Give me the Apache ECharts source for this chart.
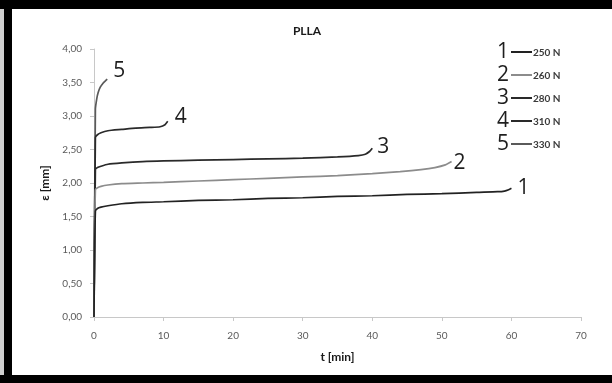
<!DOCTYPE html>
<html>
<head>
<meta charset="utf-8">
<script src="https://cdn.jsdelivr.net/npm/echarts@6/dist/echarts.min.js"></script>
<style>
  html, body { margin: 0; padding: 0; background: #ffffff; }
  #chart { width: 612px; height: 383px; }
</style>
</head>
<body>
<div id="chart"></div>
<script>
// Creep curves of PLLA specimens: strain ε [mm] against time t [min]
const curveNames = ['1', '2', '3', '4', '5'];
const loads = ['250 N', '260 N', '280 N', '310 N', '330 N'];
const curveColors = ['#222222', '#8c8c8c', '#2a2a2a', '#2a2a2a', '#5a5a5a'];

const t1 = [0, 0.2, 0.5, 1, 2, 4, 7, 10, 15, 20, 25, 30, 35, 40, 45, 50, 55, 58, 59, 59.6, 60];
const e1 = [0, 1.58, 1.62, 1.64, 1.66, 1.69, 1.71, 1.72, 1.74, 1.75, 1.77, 1.78, 1.80, 1.81, 1.83, 1.84, 1.86, 1.87, 1.88, 1.90, 1.92];

const t2 = [0, 0.2, 0.5, 1, 2, 4, 7, 10, 15, 20, 25, 30, 35, 40, 44, 47, 49, 50.5, 51.4];
const e2 = [0, 1.90, 1.93, 1.95, 1.97, 1.99, 2.00, 2.01, 2.03, 2.05, 2.07, 2.09, 2.11, 2.14, 2.17, 2.20, 2.23, 2.27, 2.32];

const t3 = [0, 0.2, 0.5, 1, 2, 4, 7, 10, 15, 20, 25, 30, 35, 38, 39, 39.6, 40];
const e3 = [0, 2.20, 2.23, 2.25, 2.28, 2.30, 2.32, 2.33, 2.34, 2.35, 2.36, 2.37, 2.39, 2.41, 2.43, 2.47, 2.52];

const t4 = [0, 0.2, 0.5, 1, 2, 4, 6, 8, 9.5, 10.2, 10.6];
const e4 = [0, 2.68, 2.72, 2.75, 2.78, 2.80, 2.82, 2.83, 2.84, 2.87, 2.92];

const t5 = [0, 0.2, 0.4, 0.6, 0.9, 1.3, 1.6, 1.9];
const e5 = [0, 3.10, 3.26, 3.35, 3.43, 3.49, 3.52, 3.55];

const xTicks = { min: 0, max: 70, interval: 10 };
const yTicks = { min: 0, max: 4, interval: 0.5 };

const times = [t1, t2, t3, t4, t5];
const strains = [e1, e2, e3, e4, e5];
const endLabelOffsets = [[4, 0], [0, 1], [3, -1], [5, -4], [4, -8]];

const chart = echarts.init(document.getElementById('chart'), null, { renderer: 'canvas' });

const series = curveNames.map((name, i) => ({
  name: name,
  type: 'line',
  data: times[i].map((t, k) => [t, strains[i][k]]),
  showSymbol: false,
  smooth: 0.2,
  lineStyle: { color: curveColors[i], width: 1.7 },
  itemStyle: { color: curveColors[i] },
  endLabel: {
    show: true,
    formatter: name,
    fontFamily: 'Open Sans',
    fontSize: 21,
    color: '#1e1e1e',
    distance: 2,
    offset: endLabelOffsets[i]
  },
  z: 5 - i
}));

// Key on the right: big curve number, short dash, load value
const keyX = 502, keyY0 = 51, keyStep = 23;
const keyGraphics = [];
curveNames.forEach((name, i) => {
  const y = keyY0 + i * keyStep;
  keyGraphics.push({
    type: 'text',
    style: {
      x: keyX + 7, y: y + 1, text: name, align: 'right', verticalAlign: 'middle',
      font: '21px "Open Sans"', fill: '#1e1e1e'
    }
  });
  keyGraphics.push({
    type: 'line',
    shape: { x1: keyX + 9, y1: y + 1, x2: keyX + 30, y2: y + 1 },
    style: { stroke: curveColors[i], lineWidth: 2 }
  });
  keyGraphics.push({
    type: 'text',
    style: {
      x: keyX + 31, y: y + 2, text: loads[i], align: 'left', verticalAlign: 'middle',
      font: 'bold 10px Lato', fill: '#3a3a3a'
    }
  });
});

const frame = [
  { type: 'rect', shape: { x: 0, y: 0, width: 4, height: 383 }, style: { fill: '#cfcfcf' }, z: 100 },
  { type: 'rect', shape: { x: 4, y: 0, width: 8, height: 383 }, style: { fill: '#000000' }, z: 100 },
  { type: 'rect', shape: { x: 0, y: 0, width: 612, height: 9 }, style: { fill: '#000000' }, z: 100 },
  { type: 'rect', shape: { x: 0, y: 375, width: 612, height: 8 }, style: { fill: '#000000' }, z: 100 }
];

chart.setOption({
  animation: false,
  backgroundColor: '#ffffff',
  title: {
    text: 'PLLA',
    left: 302,
    top: 20,
    textAlign: 'center',
    textStyle: { fontFamily: 'Lato', fontWeight: 'bold', fontSize: 12, color: '#1a1a1a' }
  },
  grid: { left: 94, right: 31, top: 49, bottom: 66, containLabel: false },
  xAxis: {
    type: 'value',
    min: xTicks.min, max: xTicks.max, interval: xTicks.interval,
    name: 't [min]',
    nameLocation: 'middle',
    nameGap: 34,
    nameTextStyle: { fontFamily: 'Lato', fontWeight: 'bold', fontSize: 12, color: '#1a1a1a' },
    axisLine: { lineStyle: { color: '#c8c8c8', width: 1 } },
    axisTick: { show: true, length: 4, lineStyle: { color: '#c8c8c8' } },
    axisLabel: { fontFamily: 'Lato', fontSize: 10, color: '#5a5a5a', margin: 14 },
    splitLine: { show: false }
  },
  yAxis: {
    type: 'value',
    min: yTicks.min, max: yTicks.max, interval: yTicks.interval,
    name: 'ε [mm]',
    nameLocation: 'middle',
    nameGap: 38,
    nameRotate: 90,
    nameTextStyle: { fontFamily: 'Lato', fontWeight: 'bold', fontSize: 12, color: '#1a1a1a' },
    axisLine: { show: true, lineStyle: { color: '#c8c8c8', width: 1 } },
    axisTick: { show: true, length: 4, lineStyle: { color: '#c8c8c8' } },
    axisLabel: {
      fontFamily: 'Lato', fontSize: 10, color: '#5a5a5a', margin: 12,
      formatter: v => v.toFixed(2).replace('.', ',')
    },
    splitLine: { show: false }
  },
  series: series,
  graphic: keyGraphics.concat(frame)
});
</script>
</body>
</html>
